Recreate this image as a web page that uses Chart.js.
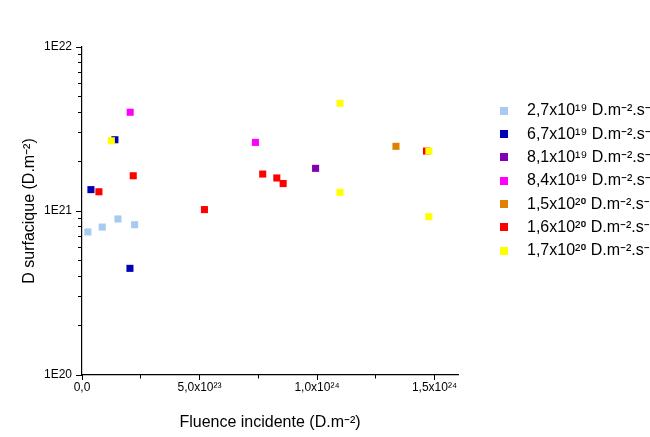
<!DOCTYPE html>
<html lang="fr">
<head>
    <meta charset="UTF-8">
    <meta name="viewport" content="width=device-width, initial-scale=1.0">
    <title>D surfacique</title>
    <script src="https://cdn.jsdelivr.net/npm/chart.js"></script>
    <style>
        html, body {
            margin: 0;
            padding: 0;
            background: #fff;
        }
        #chartContainer {
            width: 650px;
            height: 437px;
        }
    </style>
</head>
<body>
    <div id="chartContainer">
        <canvas id="scatterChart"></canvas>
    </div>

    <script>
        // one legend entry per D flux
        const fluxLabels = [
            '2,7x10¹⁹ D.m⁻².s⁻¹',
            '6,7x10¹⁹ D.m⁻².s⁻¹',
            '8,1x10¹⁹ D.m⁻².s⁻¹',
            '8,4x10¹⁹ D.m⁻².s⁻¹',
            '1,5x10²⁰ D.m⁻².s⁻¹',
            '1,6x10²⁰ D.m⁻².s⁻¹',
            '1,7x10²⁰ D.m⁻².s⁻¹'
        ];
        const fluxColors = ['#a6caf0', '#0000b4', '#8000b4', '#ff00ff', '#e08000', '#ff0000', '#ffff00'];

        // fluence incidente (x) / D surfacique (y), D.m-2
        const fluence27 = [2.5e22, 8.6e22, 1.53e23, 2.24e23];
        const dSurf27 = [7.45e20, 7.98e20, 8.94e20, 8.25e20];
        const fluence67 = [3.8e22, 1.40e23, 2.04e23];
        const dSurf67 = [1.35e21, 2.72e21, 4.47e20];
        const fluence81 = [9.94e23];
        const dSurf81 = [1.82e21];
        const fluence84 = [2.05e23, 7.38e23];
        const dSurf84 = [4.0e21, 2.62e21];
        const fluence150 = [1.336e24];
        const dSurf150 = [2.48e21];
        const fluence160 = [7.2e22, 2.18e23, 5.21e23, 7.69e23, 8.29e23, 8.56e23, 1.466e24];
        const dSurf160 = [1.31e21, 1.64e21, 1.02e21, 1.68e21, 1.59e21, 1.47e21, 2.32e21];
        const fluence170 = [1.25e23, 1.098e24, 1.098e24, 1.476e24, 1.476e24];
        const dSurf170 = [2.68e21, 4.54e21, 1.30e21, 2.32e21, 9.23e20];

        const xTickValues = [0, 5e23, 1e24, 1.5e24];
        const xTickLabels = ['0,0', '5,0x10²³', '1,0x10²⁴', '1,5x10²⁴'];
        const xMinorTicks = [0, 2.5e23, 5e23, 7.5e23, 1e24, 1.25e24, 1.5e24];
        const yTickValues = [1e20, 1e21, 1e22];
        const yTickLabels = ['1E20', '1E21', '1E22'];

        const xSeries = [fluence27, fluence67, fluence81, fluence84, fluence150, fluence160, fluence170];
        const ySeries = [dSurf27, dSurf67, dSurf81, dSurf84, dSurf150, dSurf160, dSurf170];

        const yMinorTicks = [];
        yTickValues.slice(0, -1).forEach(d => {
            [2, 3, 4, 5, 6, 7, 8, 9].forEach(m => yMinorTicks.push(d * m));
        });

        // Roboto fills in the superscript glyphs Liberation Sans lacks
        Chart.defaults.font.family = '"Liberation Sans", Roboto, Arial, sans-serif';
        Chart.defaults.color = '#000';

        function swatch(color) {
            const c = document.createElement('canvas');
            c.width = 8;
            c.height = 8;
            const g = c.getContext('2d');
            g.fillStyle = color;
            g.fillRect(0, 0, 8, 8);
            return c;
        }

        const datasets = fluxLabels.map((label, i) => ({
            label: label,
            data: xSeries[i].map((x, j) => ({ x: x, y: ySeries[i][j] })),
            backgroundColor: fluxColors[i],
            borderColor: fluxColors[i],
            pointStyle: 'rect',
            pointRadius: 5,
            pointBorderWidth: 0,
            showLine: false,
            order: fluxLabels.length - i
        }));

        // legend box is wider than its content and sits away from the plot
        const legendPlace = {
            id: 'legendPlace',
            beforeInit(chart) {
                const fit = chart.legend.fit;
                chart.legend.fit = function () {
                    fit.call(this);
                    this.width = 192;
                };
            },
            beforeDraw(chart) {
                chart.legend.left = 481.7;
                chart.legend.top = 95.5;
            }
        };

        const tickFont = { size: 12 };

        new Chart(document.getElementById('scatterChart'), {
            type: 'scatter',
            data: { datasets: datasets },
            plugins: [legendPlace],
            options: {
                responsive: true,
                maintainAspectRatio: false,
                animation: false,
                layout: { padding: { top: 47, right: 0, bottom: 0, left: 0 } },
                plugins: {
                    tooltip: { enabled: false },
                    legend: {
                        position: 'right',
                        align: 'start',
                        labels: {
                            font: { size: 16 },
                            color: '#000',
                            padding: 7.33,
                            usePointStyle: true,
                            pointStyleWidth: 30,
                            sort: (a, b) => a.datasetIndex - b.datasetIndex,
                            generateLabels(chart) {
                                const items = Chart.defaults.plugins.legend.labels.generateLabels(chart);
                                items.forEach(it => {
                                    it.pointStyle = swatch(fluxColors[it.datasetIndex]);
                                });
                                return items;
                            }
                        }
                    }
                },
                scales: {
                    x: {
                        type: 'linear',
                        position: 'bottom',
                        weight: 1,
                        min: 0,
                        max: 1.6e24,
                        afterBuildTicks: s => { s.ticks = xTickValues.map(v => ({ value: v })); },
                        afterFit: s => { s.height = 62; },
                        grid: { drawOnChartArea: false, drawTicks: true, tickLength: 5, color: '#000' },
                        border: { color: '#000', width: 1.2 },
                        ticks: {
                            font: tickFont,
                            padding: 0,
                            maxRotation: 0,
                            autoSkip: false,
                            callback: (v, i) => xTickLabels[i]
                        },
                        title: {
                            display: true,
                            text: 'Fluence incidente (D.m⁻²)',
                            font: { size: 16 },
                            padding: { top: 0, bottom: 4.4 }
                        }
                    },
                    xMinor: {
                        type: 'linear',
                        position: 'bottom',
                        weight: 0,
                        min: 0,
                        max: 1.6e24,
                        afterBuildTicks: s => { s.ticks = xMinorTicks.map(v => ({ value: v })); },
                        afterFit: s => { s.height = 0; },
                        grid: { drawOnChartArea: false, drawTicks: true, tickLength: 3.5, color: '#000' },
                        border: { display: false },
                        ticks: { display: false }
                    },
                    y: {
                        type: 'logarithmic',
                        position: 'left',
                        weight: 1,
                        min: 1e20,
                        max: 1e22,
                        afterBuildTicks: s => { s.ticks = yTickValues.map(v => ({ value: v })); },
                        afterFit: s => { s.width = 82; },
                        grid: { drawOnChartArea: false, drawTicks: true, tickLength: 6, color: '#000' },
                        border: { color: '#000', width: 1.2 },
                        ticks: {
                            font: tickFont,
                            padding: 4,
                            autoSkip: false,
                            callback: (v, i) => yTickLabels[i]
                        },
                        title: {
                            display: true,
                            text: 'D surfacique (D.m⁻²)',
                            font: { size: 16 },
                            padding: { top: 20.4, bottom: 0 }
                        }
                    },
                    yMinor: {
                        type: 'logarithmic',
                        position: 'left',
                        weight: 0,
                        min: 1e20,
                        max: 1e22,
                        afterBuildTicks: s => { s.ticks = yMinorTicks.map(v => ({ value: v })); },
                        afterFit: s => { s.width = 0; },
                        grid: { drawOnChartArea: false, drawTicks: true, tickLength: 4, color: '#000' },
                        border: { display: false },
                        ticks: { display: false }
                    }
                }
            }
        });
    </script>
</body>
</html>
